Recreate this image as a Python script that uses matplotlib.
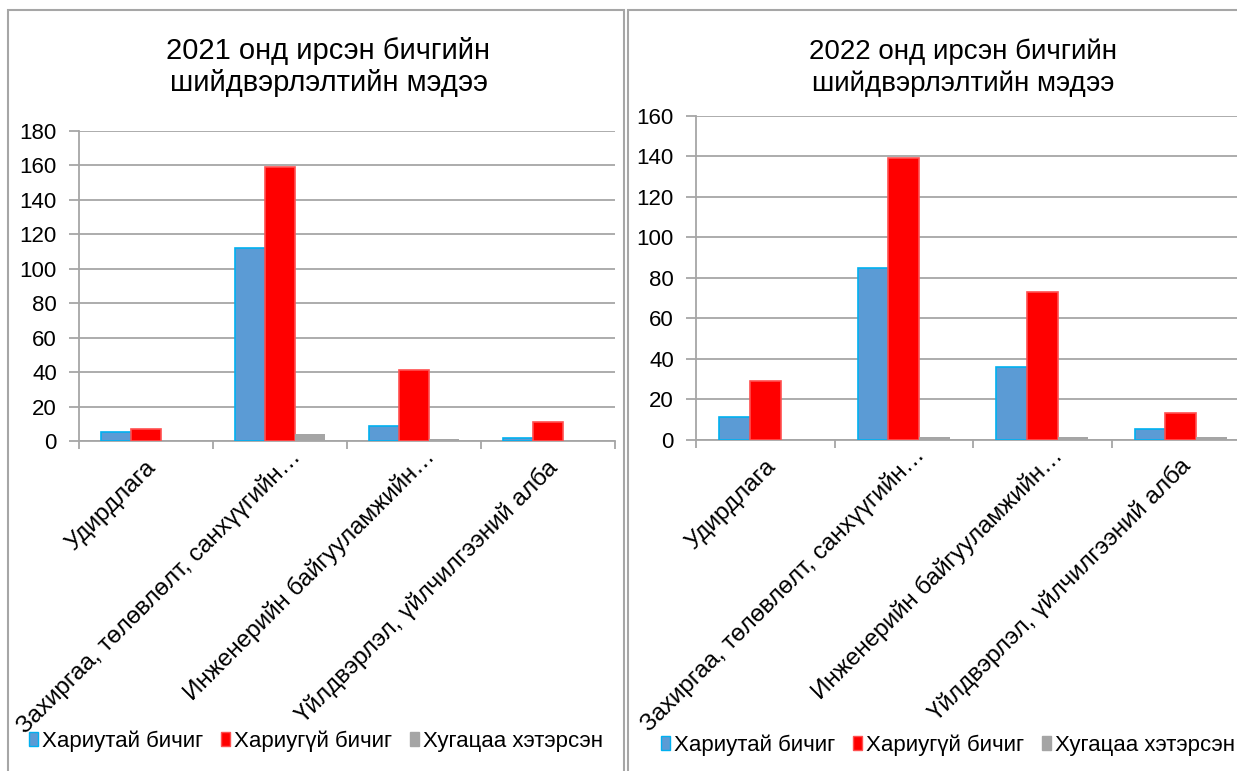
import matplotlib
matplotlib.use("Agg")
import matplotlib.pyplot as plt
from matplotlib.patches import Rectangle, Patch
from matplotlib.transforms import ScaledTranslation, blended_transform_factory
import numpy as np

plt.rcParams['font.family'] = ['Liberation Sans', 'DejaVu Sans']

categories = ["Удирдлага",
              "Захиргаа, төлөвлөлт, санхүүгийн…",
              "Инженерийн байгууламжийн…",
              "Үйлдвэрлэл, үйлчилгээний алба"]
series_names = ["Хариутай бичиг", "Хариугүй бичиг", "Хугацаа хэтэрсэн"]

answered_2021 = [5, 112, 9, 2]
unanswered_2021 = [7, 159, 41, 11]
overdue_2021 = [0, 4, 1, 0]

answered_2022 = [11, 85, 36, 5]
unanswered_2022 = [29, 139, 73, 13]
overdue_2022 = [0, 1, 1, 1]

title_2021 = "2021 онд ирсэн бичгийн\nшийдвэрлэлтийн мэдээ"
title_2022 = "2022 онд ирсэн бичгийн\nшийдвэрлэлтийн мэдээ"

W, H = 1237, 771
fig = plt.figure(figsize=(W / 100, H / 100), dpi=100)

GRID = '#A6A6A6'
colors = ['#5B9BD5', '#FF0000', '#A5A5A5']
edges = ['#00B0F0', '#FF5050', '#A5A5A5']


def px_axes(x0, y0, x1, y1):
    return fig.add_axes([x0 / W, 1 - y1 / H, (x1 - x0) / W, (y1 - y0) / H])


def draw(ax, data, ymax, step):
    x = np.arange(len(categories))
    w = 0.222
    for i, vals in enumerate(data):
        ax.bar(x + (i - 1) * w, vals, width=w, color=colors[i],
               edgecolor=edges[i], linewidth=1.2 if i < 2 else 0, zorder=3)
    ax.set_xlim(-0.5, len(categories) - 0.5)
    ax.set_ylim(0, ymax)
    ax.set_yticks(np.arange(0, ymax + 1, step))
    ax.yaxis.grid(True, color=GRID, linewidth=1.3, zorder=0)
    ax.set_axisbelow(True)
    for s in ['top', 'right']:
        ax.spines[s].set_visible(False)
    for s in ['left', 'bottom']:
        ax.spines[s].set_color(GRID)
        ax.spines[s].set_linewidth(1.3)
    ax.tick_params(axis='y', length=7, color=GRID, width=1.3, labelsize=16, pad=9)
    ax.set_xticks(np.arange(-0.5, len(categories)))
    ax.set_xticklabels([])
    ax.tick_params(axis='x', length=6, color=GRID, width=1.3)
    trans = blended_transform_factory(ax.transData, ax.transAxes)
    for i, cat in enumerate(categories):
        # offset (pixels) of the baseline end of the rotated label
        if cat.endswith("…"):
            dx, dy = 22, 17
        else:
            dx, dy = 11, 28
        off = ScaledTranslation(dx / 100, -dy / 100, fig.dpi_scale_trans)
        ax.text(i, 0, cat, transform=trans + off, rotation=45, ha='right',
                va='baseline', rotation_mode='anchor', fontsize=17.5)


# panel borders
fig.patches.append(Rectangle((8 / W, -0.05), (624 - 8) / W, 1.05 - 10 / H,
                             transform=fig.transFigure, fill=False,
                             edgecolor=GRID, linewidth=1.5))
fig.patches.append(Rectangle((628 / W, -0.05), (1260 - 628) / W, 1.05 - 10 / H,
                             transform=fig.transFigure, fill=False,
                             edgecolor=GRID, linewidth=1.5))

ax1 = px_axes(79, 131, 615, 441)
draw(ax1, [answered_2021, unanswered_2021, overdue_2021], 180, 20)
ax2 = px_axes(696, 116, 1250, 439.5)
draw(ax2, [answered_2022, unanswered_2022, overdue_2022], 160, 20)

fig.text(328.5 / W, 1 - 67 / H, title_2021, ha='center', va='center', fontsize=21,
         linespacing=1.2)
fig.text(963 / W, 1 - 68 / H, title_2022, ha='center', va='center', fontsize=20,
         linespacing=1.25)

handles = [Patch(facecolor=colors[i], edgecolor=edges[i] if i < 2 else colors[i],
                 linewidth=1.0) for i in range(3)]
for cx, cy in [(316, 741), (948, 745)]:
    fig.legend(handles, series_names, loc='center', bbox_to_anchor=(cx / W, 1 - cy / H),
               ncol=3, frameon=False, fontsize=16, handlelength=0.4,
               handleheight=0.6, handletextpad=0.18, columnspacing=0.8,
               borderaxespad=0, borderpad=0)

fig.savefig("out.png", dpi=100)
